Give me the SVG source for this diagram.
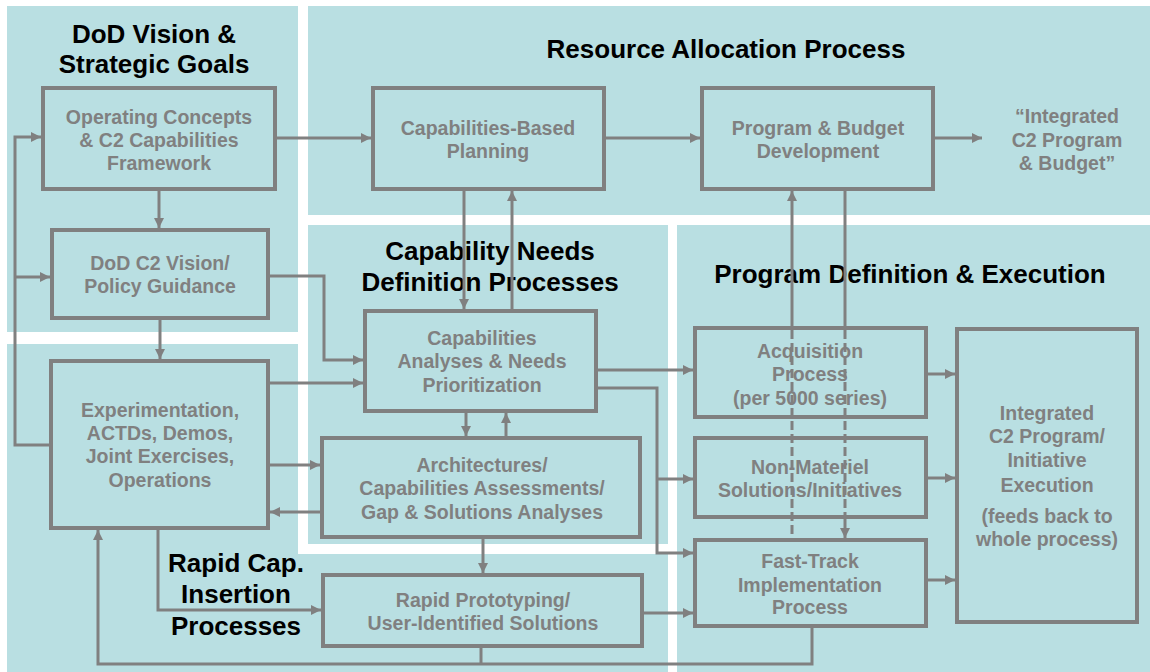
<svg xmlns="http://www.w3.org/2000/svg" width="1150" height="672" viewBox="0 0 1150 672">
<style>
.panel{fill:#B9DFE2;stroke:none}
.title{font-family:"Liberation Sans",Arial,sans-serif;font-weight:bold;font-size:26px;fill:#000;text-anchor:middle}
.box{fill:none;stroke:#808080;stroke-width:4}
.lbl{font-family:"Liberation Sans",Arial,sans-serif;font-weight:bold;font-size:19.5px;fill:#808080;text-anchor:middle}
.c{fill:none;stroke:#808080;stroke-width:3}
.a{marker-end:url(#ah)}
.d{stroke-dasharray:9 4}
</style>
<defs>
<marker id="ah" markerUnits="userSpaceOnUse" markerWidth="11" markerHeight="11" refX="10" refY="5" orient="auto">
<path d="M0,0 L10,5 L0,10 Z" fill="#808080"/>
</marker>
</defs>
<g id="panels">
<rect class="panel" x="7" y="6" width="291" height="326"/>
<rect class="panel" x="308" y="6" width="842" height="209"/>
<rect class="panel" x="308" y="225" width="360" height="319"/>
<rect class="panel" x="677" y="225" width="473" height="447"/>
<path class="panel" d="M7,344 H298 V554 H668 V672 H7 Z"/>
</g>
<g id="titles">
<text class="title" x="154" y="43">DoD Vision &amp;</text>
<text class="title" x="154" y="73">Strategic Goals</text>
<text class="title" x="726" y="58">Resource Allocation Process</text>
<text class="title" x="490" y="260">Capability Needs</text>
<text class="title" x="490" y="291">Definition Processes</text>
<text class="title" x="910" y="283">Program Definition &amp; Execution</text>
<text class="title" x="236" y="572">Rapid Cap.</text>
<text class="title" x="236" y="603">Insertion</text>
<text class="title" x="236" y="635">Processes</text>
</g>
<g id="n-opconcepts">
<rect class="box" x="43" y="88" width="232" height="101"/>
<text class="lbl" x="159" y="124">Operating Concepts</text>
<text class="lbl" x="159" y="147">&amp; C2 Capabilities</text>
<text class="lbl" x="159" y="170">Framework</text>
</g>
<g id="n-cbp">
<rect class="box" x="373" y="88" width="231" height="101"/>
<text class="lbl" x="488" y="135">Capabilities-Based</text>
<text class="lbl" x="488" y="158">Planning</text>
</g>
<g id="n-pbd">
<rect class="box" x="702" y="88" width="231" height="101"/>
<text class="lbl" x="818" y="135">Program &amp; Budget</text>
<text class="lbl" x="818" y="158">Development</text>
</g>
<g id="n-integrated-budget">
<text class="lbl" x="1067" y="123">“Integrated</text>
<text class="lbl" x="1067" y="147">C2 Program</text>
<text class="lbl" x="1067" y="170">&amp; Budget”</text>
</g>
<g id="n-vision">
<rect class="box" x="52" y="230" width="216" height="88"/>
<text class="lbl" x="160" y="270">DoD C2 Vision/</text>
<text class="lbl" x="160" y="293">Policy Guidance</text>
</g>
<g id="n-experimentation">
<rect class="box" x="51" y="361" width="217" height="167"/>
<text class="lbl" x="160" y="417">Experimentation,</text>
<text class="lbl" x="160" y="440">ACTDs, Demos,</text>
<text class="lbl" x="160" y="463">Joint Exercises,</text>
<text class="lbl" x="160" y="487">Operations</text>
</g>
<g id="n-analyses">
<rect class="box" x="365" y="311" width="231" height="100"/>
<text class="lbl" x="482" y="345">Capabilities</text>
<text class="lbl" x="482" y="368">Analyses &amp; Needs</text>
<text class="lbl" x="482" y="392">Prioritization</text>
</g>
<g id="n-architectures">
<rect class="box" x="322" y="438" width="318" height="99"/>
<text class="lbl" x="482" y="472">Architectures/</text>
<text class="lbl" x="482" y="495">Capabilities Assessments/</text>
<text class="lbl" x="482" y="519">Gap &amp; Solutions Analyses</text>
</g>
<g id="n-rapid">
<rect class="box" x="323" y="575" width="319" height="71"/>
<text class="lbl" x="483" y="607">Rapid Prototyping/</text>
<text class="lbl" x="483" y="630">User-Identified Solutions</text>
</g>
<g id="n-acquisition">
<rect class="box" x="695" y="328" width="231" height="89"/>
<text class="lbl" x="810" y="358">Acquisition</text>
<text class="lbl" x="810" y="381">Process</text>
<text class="lbl" x="810" y="405">(per 5000 series)</text>
</g>
<g id="n-nonmateriel">
<rect class="box" x="695" y="438" width="231" height="79"/>
<text class="lbl" x="810" y="474">Non-Materiel</text>
<text class="lbl" x="810" y="497">Solutions/Initiatives</text>
</g>
<g id="n-fasttrack">
<rect class="box" x="695" y="540" width="231" height="86"/>
<text class="lbl" x="810" y="568">Fast-Track</text>
<text class="lbl" x="810" y="592">Implementation</text>
<text class="lbl" x="810" y="614">Process</text>
</g>
<g id="n-execution">
<rect class="box" x="957" y="329" width="180" height="293"/>
<text class="lbl" x="1047" y="420">Integrated</text>
<text class="lbl" x="1047" y="443">C2 Program/</text>
<text class="lbl" x="1047" y="467">Initiative</text>
<text class="lbl" x="1047" y="492">Execution</text>
<text class="lbl" x="1047" y="523">(feeds back to</text>
<text class="lbl" x="1047" y="546">whole process)</text>
</g>
<g id="connectors">
<path class="c a" d="M277,138 H371"/>
<path class="c a" d="M606,138 H700"/>
<path class="c a" d="M935,138 H982"/>
<path class="c a" d="M159,191 V228"/>
<path class="c a" d="M270,276 H324 V360 H363"/>
<path class="c a" d="M160,320 V359"/>
<path class="c a" d="M49,445 H15 V137 H41"/>
<path class="c a" d="M15,277 H50"/>
<path class="c a" d="M270,383 H363"/>
<path class="c a" d="M270,465 H320"/>
<path class="c a" d="M320,512 H270"/>
<path class="c a" d="M158,530 V610 H321"/>
<path class="c a" d="M464,191 V309"/>
<path class="c a" d="M512,309 V191"/>
<path class="c a" d="M466,413 V436"/>
<path class="c a" d="M506,436 V413"/>
<path class="c a" d="M483,539 V573"/>
<path class="c a" d="M598,370 H693"/>
<path class="c a" d="M598,388 H657 V553 H693"/>
<path class="c a" d="M657,479 H693"/>
<path class="c a" d="M644,613 H693"/>
<path class="c a" d="M812,628 V664 H98 V530"/>
<path class="c" d="M481,648 V664"/>
<path class="c a" d="M792,326 V191"/>
<path class="c d" d="M792,330 V535"/>
<path class="c" d="M845,191 V326"/>
<path class="c d" d="M845,330 V517"/>
<path class="c a" d="M845,517 V538"/>
<path class="c a" d="M928,374 H955"/>
<path class="c a" d="M928,478 H955"/>
<path class="c a" d="M928,580 H955"/>
</g>
</svg>
